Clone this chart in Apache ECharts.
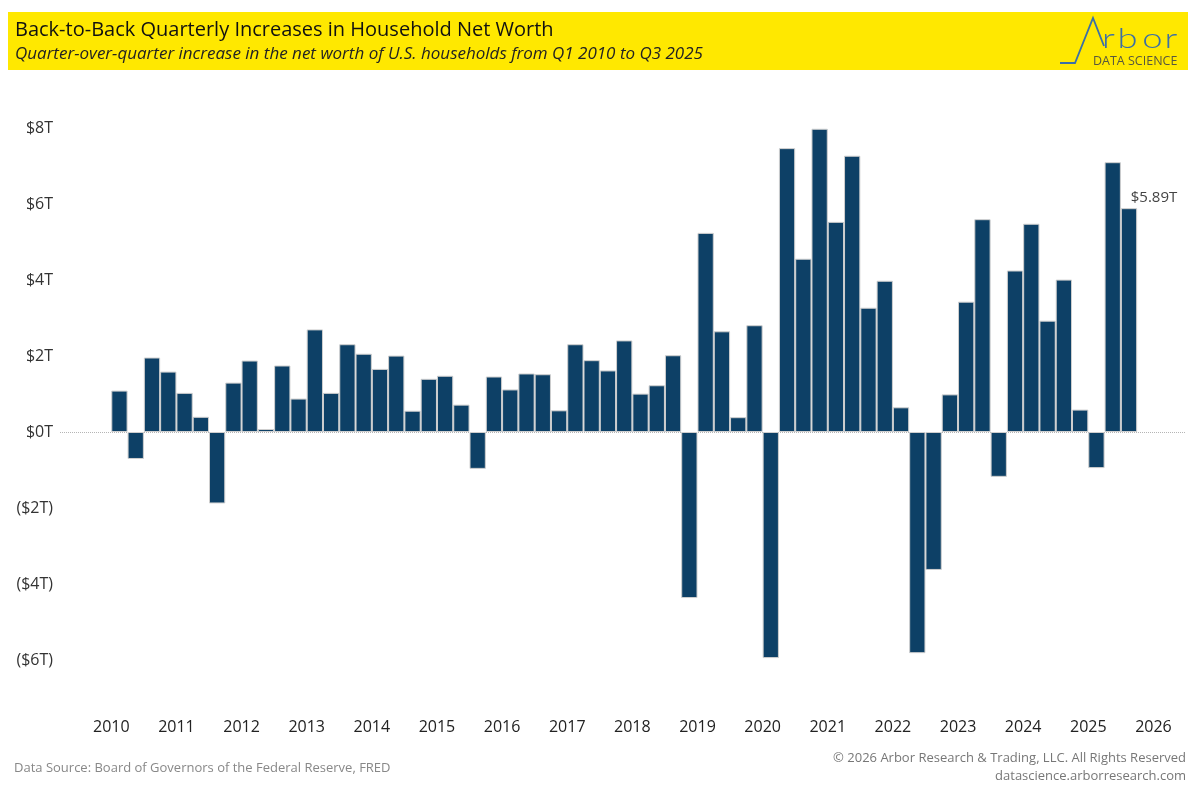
<!DOCTYPE html>
<html>
<head>
<meta charset="utf-8">
<script src="https://cdn.jsdelivr.net/npm/echarts@6/dist/echarts.min.js"></script>
<style>
html,body{margin:0;padding:0;background:#fff;}
#chart{width:1200px;height:800px;}
</style>
</head>
<body>
<div id="chart"></div>
<script>
// Quarter labels Q1 2010 .. Q3 2025
const quarters = [];
for (let y = 2010; y <= 2025; y++) {
  for (let q = 1; q <= 4; q++) {
    if (y === 2025 && q > 3) break;
    quarters.push('Q' + q + ' ' + y);
  }
}
// Quarter-over-quarter change in household net worth, trillions USD
const values = [
  1.09, -0.71, 1.96, 1.59,   // 2010
  1.03, 0.40, -1.88, 1.30,   // 2011
  1.88, 0.04, 1.75, 0.88,    // 2012
  2.70, 1.03, 2.31, 2.06,    // 2013
  1.66, 2.01, 0.56, 1.40,    // 2014
  1.48, 0.72, -0.97, 1.46,   // 2015
  1.12, 1.54, 1.52, 0.57,    // 2016
  2.31, 1.89, 1.62, 2.41,    // 2017
  1.01, 1.23, 2.02, -4.37,   // 2018
  5.24, 2.65, 0.39, 2.81,    // 2019
  -5.95, 7.47, 4.56, 7.98,   // 2020
  5.53, 7.27, 3.27, 3.98,    // 2021
  0.65, -5.82, -3.63, 0.99,  // 2022
  3.43, 5.60, -1.18, 4.25,   // 2023
  5.48, 2.93, 4.01, 0.59,    // 2024
  -0.95, 7.10, 5.89          // 2025
];
const yearTicks = [2010,2011,2012,2013,2014,2015,2016,2017,2018,2019,2020,2021,2022,2023,2024,2025,2026];
const yTicks = [-6,-4,-2,0,2,4,6,8];

const chart = echarts.init(document.getElementById('chart'), null, {renderer:'canvas'});
const FONT = '"Open Sans", "Noto Sans", sans-serif';
const barData = values.map((v, i) => {
  const d = {value: [i + 0.5, v], name: quarters[i]};
  if (i === values.length - 1) {
    d.label = {show: true, position: 'top', offset: [25, 2], formatter: () => '$' + v.toFixed(2) + 'T',
      color: '#444', fontSize: 15, fontFamily: FONT};
  }
  return d;
});

const LOGO = '#3b6fa6';
const logoLetters = [['r', 0], ['b', 12], ['o', 31], ['r', 48]];

const option = {
  animation: false,
  backgroundColor: '#fff',
  grid: {left: 60, right: 14, top: 128, bottom: 140, containLabel: false},
  xAxis: {
    type: 'value', min: -3.15, max: 66,
    axisLine: {show: false}, axisTick: {show: false}, splitLine: {show: false},
    axisLabel: {
      customValues: yearTicks.map(y => (y - 2010) * 4),
      formatter: v => String(2010 + Math.round(v / 4)),
      color: '#222', fontSize: 16, fontFamily: FONT, margin: 59
    }
  },
  yAxis: {
    type: 'value', min: -6, max: 8, interval: 2,
    axisLine: {show: false}, axisTick: {show: false}, splitLine: {show: false},
    axisLabel: {
      customValues: yTicks,
      formatter: v => v < 0 ? '($' + Math.abs(v) + 'T)' : '$' + v + 'T',
      color: '#333', fontSize: 16, fontFamily: FONT, margin: 7
    }
  },
  series: [{
    type: 'bar',
    data: barData,
    barWidth: 16.29,
    barMinHeight: 3,
    itemStyle: {color: '#0d4066', borderColor: '#cfcfcf', borderWidth: 1},
    markLine: {
      silent: true, symbol: 'none', label: {show: false},
      lineStyle: {type: 'dotted', color: '#b5b5b5', width: 1},
      data: [{yAxis: 0}],
      z: 1
    },
    z: 2
  }],
  graphic: [
    {type: 'rect', shape: {x: 8, y: 12, width: 1180, height: 58}, style: {fill: '#ffe800'}, z: 0},
    {type: 'text', x: 15, y: 30, style: {text: 'Back-to-Back Quarterly Increases in Household Net Worth',
      font: '20px ' + FONT, fill: '#111', textVerticalAlign: 'middle'}},
    {type: 'text', x: 15, y: 54, style: {text: 'Quarter-over-quarter increase in the net worth of U.S. households from Q1 2010 to Q3 2025',
      font: 'italic 17px ' + FONT, fill: '#222', textVerticalAlign: 'middle'}},
    {type: 'polyline', shape: {points: [[1060, 63], [1075, 63], [1093, 18], [1104, 46]]},
      style: {stroke: LOGO, lineWidth: 1.8, fill: null}},
    {type: 'group', x: 1102, y: 39, scaleX: 1.3, scaleY: 1,
      children: logoLetters.map(([ch, x]) => ({type: 'text', x: x, y: 0,
        style: {text: ch, font: '300 28px "Lato", ' + FONT, fill: LOGO, textVerticalAlign: 'middle'}}))},
    {type: 'text', x: 1093, y: 61, style: {text: 'DATA SCIENCE', font: '12.5px ' + FONT, fill: '#57573f', textVerticalAlign: 'middle'}},
    {type: 'text', x: 14, y: 768, style: {text: 'Data Source: Board of Governors of the Federal Reserve, FRED',
      font: '13px ' + FONT, fill: '#888', textVerticalAlign: 'middle'}},
    {type: 'text', x: 1186, y: 758, style: {text: '© 2026 Arbor Research & Trading, LLC. All Rights Reserved',
      font: '13px ' + FONT, fill: '#777', textAlign: 'right', textVerticalAlign: 'middle'}},
    {type: 'text', x: 1186, y: 776, style: {text: 'datascience.arborresearch.com',
      font: '13px ' + FONT, fill: '#777', textAlign: 'right', textVerticalAlign: 'middle'}}
  ]
};
chart.setOption(option);
</script>
</body>
</html>
